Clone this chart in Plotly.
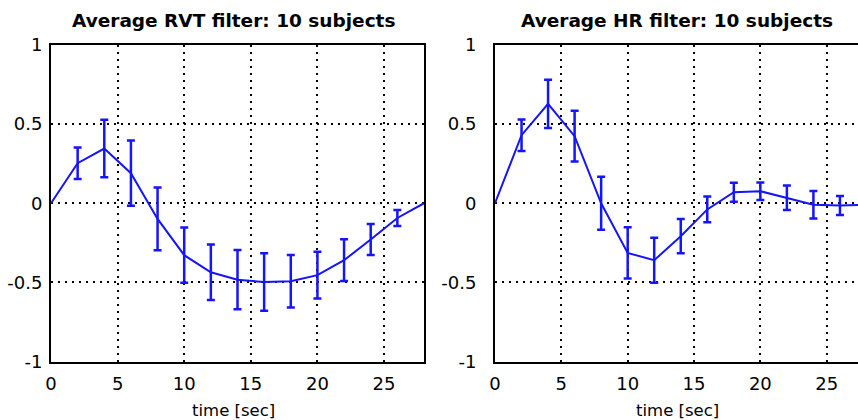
import plotly.graph_objects as go

# ---- data ----
t = [0, 2, 4, 6, 8, 10, 12, 14, 16, 18, 20, 22, 24, 26, 28]
rvt_mean = [0, 0.253, 0.346, 0.19, -0.099, -0.328, -0.436, -0.483, -0.498, -0.493, -0.454, -0.36, -0.229, -0.093, 0]
t_err = [2, 4, 6, 8, 10, 12, 14, 16, 18, 20, 22, 24, 26]
rvt_err_mean = [0.253, 0.346, 0.19, -0.099, -0.328, -0.436, -0.483, -0.498, -0.493, -0.454, -0.36, -0.229, -0.093]
rvt_err = [0.099, 0.181, 0.206, 0.198, 0.174, 0.176, 0.187, 0.182, 0.166, 0.148, 0.132, 0.098, 0.051]

hr_mean = [0, 0.43, 0.628, 0.424, 0.0, -0.314, -0.36, -0.208, -0.039, 0.07, 0.076, 0.035, -0.009, -0.014, -0.01]
hr_err_mean = [0.43, 0.628, 0.424, 0.0, -0.314, -0.36, -0.208, -0.039, 0.07, 0.076, 0.035, -0.009, -0.014]
hr_err = [0.1, 0.153, 0.16, 0.167, 0.162, 0.142, 0.108, 0.081, 0.06, 0.055, 0.077, 0.087, 0.06]

titles = ["Average RVT filter: 10 subjects", "Average HR filter: 10 subjects"]
xlabel = "time [sec]"
xticks = [0, 5, 10, 15, 20, 25]
yticks = [-1, -0.5, 0, 0.5, 1]
ytick_text = ["-1", "-0.5", "0", "0.5", "1"]

BLUE = "#1414ff"
FONT = "DejaVu Sans"
W, H = 858, 420

fig = go.Figure()

for i, (m, em, e) in enumerate([(rvt_mean, rvt_err_mean, rvt_err), (hr_mean, hr_err_mean, hr_err)]):
    xa = "x" if i == 0 else "x2"
    ya = "y" if i == 0 else "y2"
    fig.add_trace(go.Scatter(x=t, y=m, mode="lines", line=dict(color=BLUE, width=2),
                             xaxis=xa, yaxis=ya, showlegend=False, hoverinfo="skip"))
    fig.add_trace(go.Scatter(x=t_err, y=em, mode="markers",
                             marker=dict(size=1, color="rgba(0,0,0,0)"),
                             error_y=dict(type="data", array=e, visible=True, color=BLUE,
                                          thickness=2.5, width=4),
                             xaxis=xa, yaxis=ya, showlegend=False, hoverinfo="skip"))

ydom = [1 - 361.5 / H, 1 - 45 / H]
grid = dict(showgrid=True, gridcolor="black", gridwidth=1.6, griddash="2px,5px",
            zeroline=False, showline=True, linecolor="black", linewidth=2, automargin=False,
            ticks="", tickfont=dict(family=FONT, size=18, color="black"))

fig.update_layout(
    width=W, height=H, margin=dict(l=0, r=0, t=0, b=0, autoexpand=False),
    paper_bgcolor="white", plot_bgcolor="white",
    xaxis=dict(domain=[51 / W, 424 / W], range=[0, 28], tickvals=xticks, mirror=True,
               ticklabelstandoff=5, **grid),
    yaxis=dict(domain=ydom, range=[-1, 1], tickvals=yticks, ticktext=ytick_text, mirror=True,
               ticklabelstandoff=3, **grid),
    xaxis2=dict(domain=[495 / W, 1.0], range=[0, 27.36], tickvals=xticks, mirror=True,
                anchor="y2", ticklabelstandoff=5, **grid),
    yaxis2=dict(domain=ydom, range=[-1, 1], tickvals=yticks, ticktext=ytick_text, mirror=False,
                anchor="x2", ticklabelstandoff=13, **grid),
)

for cx, title in zip([234 / W, 677 / W], titles):
    fig.add_annotation(x=cx, y=1 - 20 / H, xref="paper", yref="paper", text="<b>%s</b>" % title,
                       showarrow=False, xanchor="center", yanchor="middle",
                       font=dict(family=FONT, size=18.5, color="black"))
for cx in [233 / W, 677 / W]:
    fig.add_annotation(x=cx, y=1 - 410 / H, xref="paper", yref="paper", text=xlabel,
                       showarrow=False, xanchor="center", yanchor="middle",
                       font=dict(family=FONT, size=16.5, color="black"))

fig.write_html("out.html")
